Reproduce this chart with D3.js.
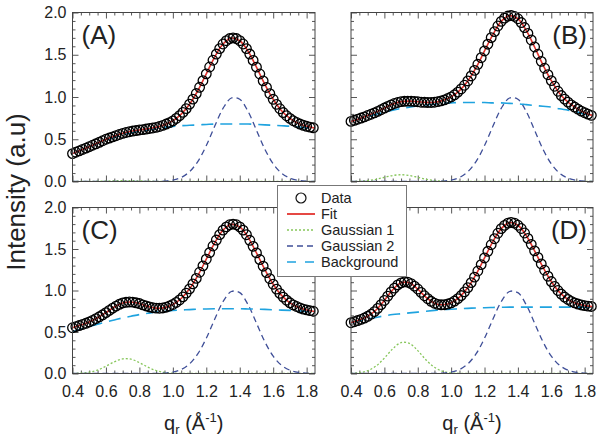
<!DOCTYPE html>
<html><head><meta charset="utf-8">
<script src="https://cdn.jsdelivr.net/npm/d3@7"></script>
<style>body{margin:0;background:#fff}svg{display:block;font-family:"Liberation Sans",Arial,sans-serif}</style>
</head><body><svg id="c" width="600" height="440"></svg>
<script>
// x grid of the fitted curves / components
const qLine = [0.40,0.45,0.50,0.55,0.60,0.65,0.70,0.75,0.80,0.85,0.90,0.95,1.00,1.05,1.10,1.15,1.20,1.25,1.30,1.35,1.40,1.45,1.50,1.55,1.60,1.65,1.70,1.75,1.80,1.85];
// x grid of the data points
const qData = [0.40,0.42,0.44,0.46,0.48,0.50,0.52,0.54,0.56,0.58,0.60,0.62,0.64,0.66,0.68,0.70,0.72,0.74,0.76,0.78,0.80,0.82,0.84,0.86,0.88,0.90,0.92,0.94,0.96,0.98,1.00,1.02,1.04,1.06,1.08,1.10,1.12,1.14,1.16,1.18,1.20,1.22,1.24,1.26,1.28,1.30,1.32,1.34,1.36,1.38,1.40,1.42,1.44,1.46,1.48,1.50,1.52,1.54,1.56,1.58,1.60,1.62,1.64,1.66,1.68,1.70,1.72,1.74,1.76,1.78,1.80,1.82,1.84];

const dataA = [0.330,0.346,0.362,0.379,0.395,0.412,0.429,0.446,0.464,0.482,0.500,0.514,0.528,0.542,0.556,0.569,0.580,0.589,0.597,0.603,0.610,0.614,0.621,0.627,0.633,0.641,0.651,0.664,0.680,0.697,0.718,0.746,0.779,0.818,0.863,0.915,0.975,1.041,1.115,1.193,1.274,1.355,1.435,1.508,1.573,1.627,1.666,1.692,1.700,1.692,1.666,1.627,1.573,1.508,1.433,1.353,1.272,1.191,1.113,1.039,0.973,0.913,0.861,0.816,0.778,0.747,0.719,0.698,0.680,0.665,0.653,0.643,0.635];
const dataB = [0.711,0.724,0.737,0.751,0.765,0.781,0.796,0.812,0.830,0.849,0.869,0.888,0.907,0.923,0.935,0.945,0.949,0.951,0.950,0.947,0.944,0.938,0.937,0.935,0.935,0.938,0.945,0.954,0.966,0.982,1.001,1.026,1.058,1.095,1.139,1.190,1.249,1.315,1.387,1.465,1.545,1.625,1.702,1.774,1.840,1.895,1.934,1.958,1.964,1.954,1.926,1.881,1.822,1.752,1.675,1.592,1.506,1.422,1.340,1.264,1.194,1.127,1.068,1.017,0.975,0.939,0.907,0.881,0.856,0.833,0.814,0.797,0.783];
const dataC = [0.551,0.564,0.578,0.591,0.605,0.621,0.639,0.661,0.683,0.707,0.733,0.760,0.788,0.812,0.834,0.850,0.858,0.862,0.860,0.852,0.843,0.827,0.814,0.802,0.792,0.788,0.786,0.790,0.799,0.813,0.832,0.856,0.886,0.923,0.968,1.020,1.080,1.146,1.220,1.297,1.377,1.457,1.536,1.608,1.673,1.727,1.766,1.792,1.800,1.792,1.766,1.727,1.672,1.605,1.532,1.453,1.373,1.293,1.215,1.142,1.076,1.016,0.965,0.920,0.883,0.852,0.826,0.807,0.790,0.776,0.766,0.757,0.750];
const dataD = [0.612,0.624,0.638,0.652,0.668,0.689,0.714,0.746,0.785,0.830,0.880,0.932,0.983,1.029,1.067,1.092,1.104,1.100,1.083,1.053,1.018,0.977,0.937,0.901,0.870,0.847,0.833,0.828,0.829,0.837,0.851,0.873,0.902,0.939,0.983,1.035,1.095,1.161,1.235,1.312,1.392,1.472,1.551,1.624,1.690,1.745,1.785,1.812,1.820,1.812,1.786,1.747,1.693,1.628,1.556,1.478,1.399,1.320,1.244,1.172,1.108,1.050,1.000,0.957,0.921,0.892,0.868,0.851,0.837,0.826,0.818,0.812,0.808];

const fitA = [0.330,0.371,0.412,0.455,0.500,0.536,0.570,0.594,0.610,0.624,0.641,0.672,0.718,0.798,0.915,1.077,1.274,1.473,1.627,1.698,1.666,1.542,1.353,1.151,0.973,0.837,0.747,0.688,0.653,0.632];
const fitB = [0.711,0.744,0.781,0.821,0.869,0.916,0.945,0.951,0.944,0.936,0.938,0.960,1.001,1.075,1.190,1.350,1.545,1.738,1.895,1.963,1.926,1.789,1.592,1.381,1.194,1.041,0.939,0.869,0.814,0.777];
const fitC = [0.551,0.585,0.621,0.672,0.733,0.801,0.850,0.862,0.843,0.807,0.788,0.794,0.832,0.904,1.020,1.182,1.377,1.573,1.727,1.798,1.766,1.640,1.453,1.253,1.076,0.941,0.852,0.798,0.766,0.747];
const fitD = [0.612,0.645,0.689,0.765,0.880,1.008,1.092,1.093,1.016,0.918,0.847,0.828,0.851,0.920,1.035,1.197,1.392,1.589,1.745,1.818,1.786,1.662,1.478,1.281,1.108,0.977,0.892,0.843,0.818,0.807];

const gauss1A = [0,0,0.001,0.003,0.006,0.009,0.010,0.010,0.007,0.004,0.002,0.001,0,0,0,0,0,0,0,0,0,0,0,0,0,0,0,0,0,0];
const gauss1B = [0.001,0.004,0.011,0.026,0.049,0.071,0.080,0.071,0.049,0.026,0.011,0.004,0.001,0,0,0,0,0,0,0,0,0,0,0,0,0,0,0,0,0];
const gauss1C = [0.001,0.005,0.016,0.042,0.088,0.141,0.176,0.172,0.131,0.077,0.036,0.013,0.004,0.001,0,0,0,0,0,0,0,0,0,0,0,0,0,0,0,0];
const gauss1D = [0.002,0.010,0.034,0.090,0.185,0.298,0.372,0.363,0.276,0.163,0.075,0.027,0.008,0.002,0,0,0,0,0,0,0,0,0,0,0,0,0,0,0,0];

const gauss2 = [0,0,0,0,0,0,0,0,0,0,0.001,0.005,0.017,0.048,0.116,0.239,0.425,0.653,0.865,0.988,0.974,0.828,0.607,0.383,0.209,0.098,0.040,0.014,0.004,0.001];

const bgA = [0.33,0.37,0.41,0.45,0.49,0.52,0.55,0.575,0.595,0.61,0.625,0.64,0.65,0.66,0.665,0.67,0.675,0.68,0.68,0.68,0.68,0.68,0.675,0.67,0.665,0.66,0.655,0.645,0.635,0.625];
const bgB = [0.71,0.74,0.77,0.795,0.82,0.845,0.865,0.88,0.895,0.905,0.915,0.925,0.93,0.935,0.935,0.935,0.935,0.93,0.93,0.925,0.92,0.91,0.90,0.89,0.88,0.86,0.845,0.825,0.795,0.77];
const bgC = [0.50,0.535,0.565,0.595,0.62,0.645,0.67,0.69,0.71,0.725,0.74,0.75,0.76,0.765,0.77,0.775,0.778,0.78,0.78,0.78,0.78,0.778,0.775,0.772,0.768,0.764,0.76,0.755,0.748,0.74];
const bgD = [0.61,0.635,0.655,0.675,0.695,0.71,0.72,0.73,0.74,0.75,0.76,0.77,0.775,0.78,0.785,0.79,0.793,0.796,0.798,0.80,0.80,0.80,0.80,0.80,0.80,0.80,0.80,0.80,0.80,0.80];

const panelLabels = ["(A)","(B)","(C)","(D)"];
const xTickValues = [0.4,0.6,0.8,1.0,1.2,1.4,1.6,1.8];
const yTickValues = [0.0,0.5,1.0,1.5,2.0];
const legendLabels = ["Data","Fit","Gaussian 1","Gaussian 2","Background"];

const svg = d3.select("#c");
const colX = [[72.5,315],[351,593]];
const rowY = [[12.5,181.5],[207.5,373.5]];
const C = {fit:"#e3342f", g1:"#86c65a", g2:"#3f4f98", bg:"#1fa3df", frame:"#444", text:"#222"};

const panels = [
  {label:panelLabels[0], data:dataA, fit:fitA, g1:gauss1A, g2:gauss2, bg:bgA, col:0, row:0},
  {label:panelLabels[1], data:dataB, fit:fitB, g1:gauss1B, g2:gauss2, bg:bgB, col:1, row:0},
  {label:panelLabels[2], data:dataC, fit:fitC, g1:gauss1C, g2:gauss2, bg:bgC, col:0, row:1},
  {label:panelLabels[3], data:dataD, fit:fitD, g1:gauss1D, g2:gauss2, bg:bgD, col:1, row:1}
];

const xMinor = d3.range(8, 37).map(i => i*0.05).filter(v => Math.abs(v*5 - Math.round(v*5)) > 1e-6);
const yMinor = d3.range(1, 20).map(i => i*0.1).filter(v => Math.abs(v*2 - Math.round(v*2)) > 1e-6);

panels.forEach((p, pi) => {
  const [x0, x1] = colX[p.col];
  const [y0, y1] = rowY[p.row];
  const x = d3.scaleLinear().domain([0.4, 1.85]).range([x0, x1]);
  const y = d3.scaleLinear().domain([0, 2]).range([y1, y0]);
  const g = svg.append("g");
  const clipId = "clip" + pi;
  svg.append("clipPath").attr("id", clipId).append("rect")
    .attr("x", x0).attr("y", y0).attr("width", x1 - x0).attr("height", y1 - y0);

  function axisG(axis, tx, ty) {
    const a = g.append("g").attr("transform", `translate(${tx},${ty})`).call(axis);
    a.select(".domain").remove();
    a.selectAll(".tick line").attr("stroke", C.frame).attr("stroke-width", 0.9);
    a.selectAll(".tick text").filter(function() { return this.textContent === ""; }).remove();
    a.selectAll(".tick text").attr("fill", C.text).style("font-size", "16px")
      .style("font-family", '"Liberation Sans",Arial,sans-serif');
    return a;
  }
  const fmt = d3.format(".1f");
  const none = () => "";
  axisG(d3.axisBottom(x).tickValues(xTickValues).tickSize(-6).tickPadding(12).tickFormat(p.row === 1 ? fmt : none), 0, y1);
  axisG(d3.axisBottom(x).tickValues(xMinor).tickSize(-3).tickFormat(none), 0, y1);
  axisG(d3.axisTop(x).tickValues(xTickValues).tickSize(-6).tickFormat(none), 0, y0);
  axisG(d3.axisTop(x).tickValues(xMinor).tickSize(-3).tickFormat(none), 0, y0);
  axisG(d3.axisLeft(y).tickValues(yTickValues).tickSize(-6).tickPadding(6).tickFormat(p.col === 0 ? fmt : none), x0, 0);
  axisG(d3.axisLeft(y).tickValues(yMinor).tickSize(-3).tickFormat(none), x0, 0);
  axisG(d3.axisRight(y).tickValues(yTickValues).tickSize(-6).tickFormat(none), x1, 0);
  axisG(d3.axisRight(y).tickValues(yMinor).tickSize(-3).tickFormat(none), x1, 0);

  const plot = g.append("g").attr("clip-path", `url(#${clipId})`);
  const line = d3.line().x((d, i) => x(qLine[i])).y(d => y(d)).curve(d3.curveCatmullRom.alpha(0.5));

  plot.append("path").attr("d", line(p.g1)).attr("fill", "none").attr("stroke", C.g1)
    .attr("stroke-width", 1.3).attr("stroke-dasharray", "2,2");
  plot.append("path").attr("d", line(p.g2)).attr("fill", "none").attr("stroke", C.g2)
    .attr("stroke-width", 1.3).attr("stroke-dasharray", "6,4");
  plot.append("path").attr("d", line(p.bg)).attr("fill", "none").attr("stroke", C.bg)
    .attr("stroke-width", 1.6).attr("stroke-dasharray", "12,7");

  g.append("g").selectAll("circle").data(p.data).join("circle")
    .attr("cx", (d, i) => x(qData[i])).attr("cy", d => y(d)).attr("r", 4.8)
    .attr("fill", "none").attr("stroke", "#000").attr("stroke-width", 1.3);

  plot.append("path").attr("d", line(p.fit)).attr("fill", "none").attr("stroke", C.fit)
    .attr("stroke-width", 1.6);

  g.append("rect").attr("x", x0).attr("y", y0).attr("width", x1 - x0).attr("height", y1 - y0)
    .attr("fill", "none").attr("stroke", C.frame).attr("stroke-width", 1);

  const left = p.col === 0;
  g.append("text").attr("x", left ? x0 + 9 : x1 - 6).attr("y", y0 + 31)
    .attr("text-anchor", left ? "start" : "end").attr("fill", C.text)
    .style("font-size", "26px").text(p.label);
});

// y axis title
svg.append("text").attr("transform", "translate(25,192) rotate(-90)").attr("text-anchor", "middle")
  .attr("fill", C.text).style("font-size", "26px").text("Intensity (a.u)");

// x axis titles
function xTitle(cx) {
  const t = svg.append("text").attr("x", cx).attr("y", 430).attr("text-anchor", "middle")
    .attr("fill", C.text).style("font-size", "20px");
  t.append("tspan").text("q");
  t.append("tspan").attr("dy", 4).style("font-size", "13px").text("r");
  t.append("tspan").attr("dy", -4).text(" (Å");
  t.append("tspan").attr("dy", -8).style("font-size", "13px").text("-1");
  t.append("tspan").attr("dy", 8).text(")");
}
xTitle((colX[0][0] + colX[0][1]) / 2);
xTitle((colX[1][0] + colX[1][1]) / 2);

// legend
const lg = svg.append("g");
lg.append("rect").attr("x", 277.5).attr("y", 185.5).attr("width", 129).attr("height", 91)
  .attr("fill", "#fff").attr("stroke", "#777").attr("stroke-width", 1);
const rowsY = [198, 214, 230, 246, 262];
const styles = [
  null,
  {c: C.fit, w: 1.8, dash: null},
  {c: C.g1, w: 1.4, dash: "2,2"},
  {c: C.g2, w: 1.4, dash: "6,4"},
  {c: C.bg, w: 1.6, dash: "9,9"}
];
legendLabels.forEach((lab, i) => {
  const yy = rowsY[i];
  if (i === 0) {
    lg.append("circle").attr("cx", 301).attr("cy", yy).attr("r", 5).attr("fill", "none")
      .attr("stroke", "#111").attr("stroke-width", 1.2);
  } else {
    const s = styles[i];
    lg.append("line").attr("x1", 287).attr("x2", 315).attr("y1", yy).attr("y2", yy)
      .attr("stroke", s.c).attr("stroke-width", s.w).attr("stroke-dasharray", s.dash);
  }
  lg.append("text").attr("x", 321).attr("y", yy + 5).attr("fill", C.text)
    .style("font-size", "14.5px").text(lab);
});
</script></body></html>
